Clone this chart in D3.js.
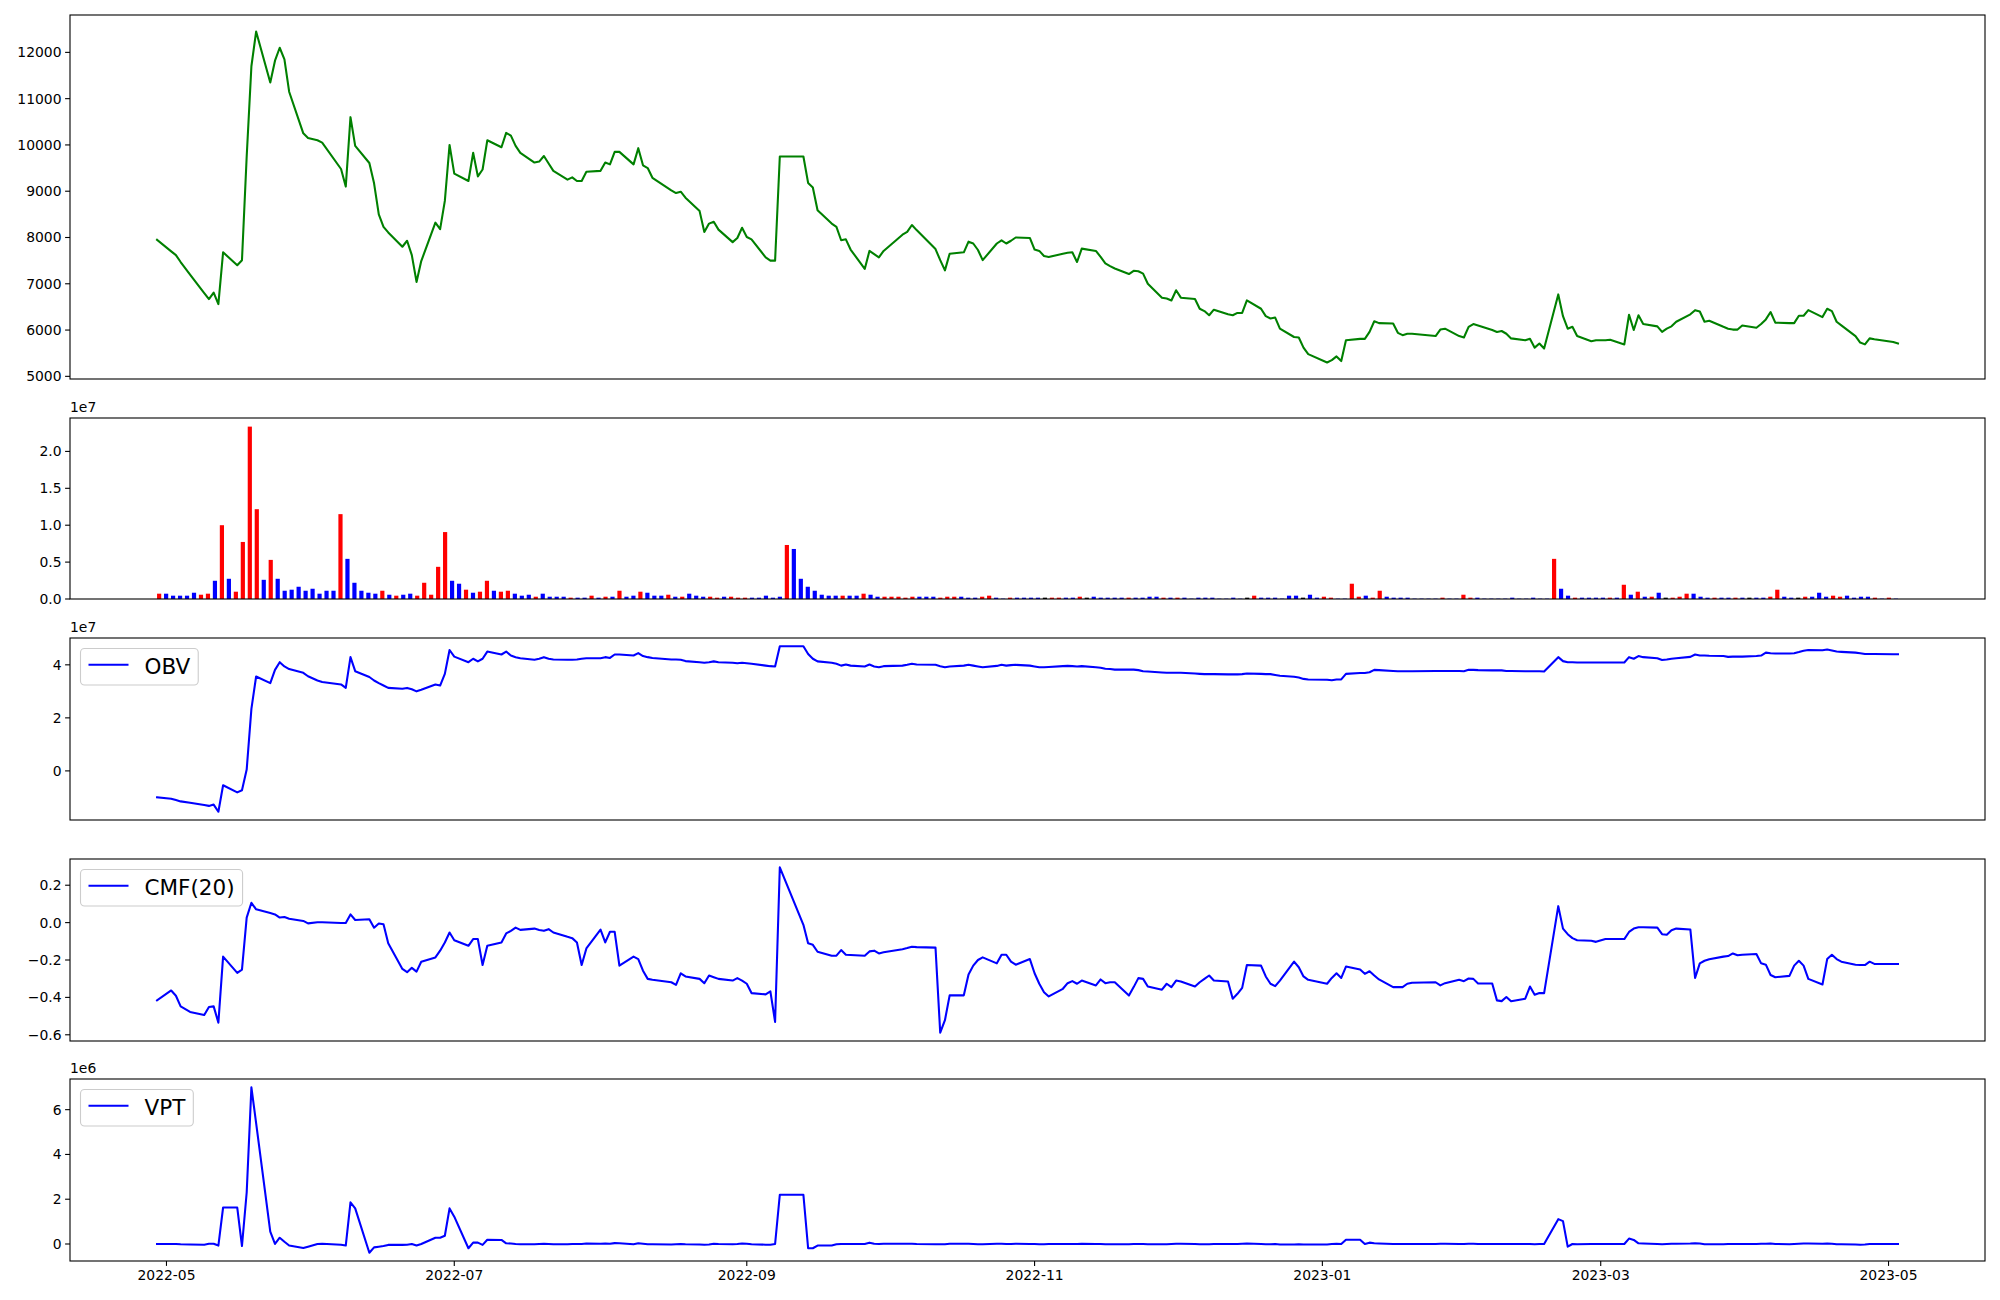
<!DOCTYPE html>
<html><head><meta charset="utf-8">
<script src="https://cdn.jsdelivr.net/npm/d3@7"></script>
<style>
body{margin:0;background:#fff}
svg{display:block}
text{font-family:"DejaVu Sans","Liberation Sans",sans-serif;fill:#000}
</style>
</head><body>
<svg id="chart" width="2000" height="1300"></svg>
<script>
// ---------------- DATA ----------------
// Trading days (KRX calendar) shown by the line panels
const tradingDays = {
  "2022-04": [29],
  "2022-05": [2,3,4,6,9,10,11,12,13,16,17,18,19,20,23,24,25,26,27,30,31],
  "2022-06": [2,3,7,8,9,10,13,14,15,16,17,20,21,22,23,24,27,28,29,30],
  "2022-07": [1,4,5,6,7,8,11,12,13,14,15,18,19,20,21,22,25,26,27,28,29],
  "2022-08": [1,2,3,4,5,8,9,10,11,12,16,17,18,19,22,23,24,25,26,29,30,31],
  "2022-09": [1,2,5,6,7,8,13,14,15,16,19,20,21,22,23,26,27,28,29,30],
  "2022-10": [4,5,6,7,11,12,13,14,17,18,19,20,21,24,25,26,27,28,31],
  "2022-11": [1,2,3,4,7,8,9,10,11,14,15,16,17,18,21,22,23,24,25,28,29,30],
  "2022-12": [1,2,5,6,7,8,9,12,13,14,15,16,19,20,21,22,23,26,27,28,29],
  "2023-01": [2,3,4,5,6,9,10,11,12,13,16,17,18,19,20,25,26,27,30,31],
  "2023-02": [1,2,3,6,7,8,9,10,13,14,15,16,17,20,21,22,23,24,27,28],
  "2023-03": [2,3,6,7,8,9,10,13,14,15,16,17,20,21,22,23,24,27,28,29,30,31],
  "2023-04": [3,4,5,6,7,10,11,12,13,14,17,18,19,20,21,24,25,26,27,28],
  "2023-05": [2,3]
};

const closePrice = [
  7950,
  7700,7620,7470,7200,6800,6670,6810,6560,7680,7400,7510,9750,11700,12450,11350,11820,12100,11850,11150,10250,10150,
  10100,10050,9480,9100,10600,9980,9610,9170,8500,8230,8110,7800,7930,7620,7040,7490,8320,8180,8790,10000,
  9380,9220,9830,9320,9470,10100,9950,10260,10200,9980,9830,9620,9640,9760,9600,9440,9250,9300,9220,9220,9420,
  9440,9620,9580,9850,9850,9580,9930,9560,9500,9290,9020,8960,8990,8860,8570,8120,8300,8340,8170,7900,7990,8210,
  8010,7960,7570,7500,7500,9750,9750,9180,9080,8590,8300,8230,7940,7960,7740,7320,7710,7640,7570,7710,
  8060,8120,8270,8160,7750,7510,7290,7650,7680,7910,7870,7730,7510,7870,7940,7870,7930,8000,7990,
  7740,7710,7600,7580,7650,7670,7680,7470,7760,7710,7580,7440,7380,7330,7210,7280,7270,7220,7000,6700,6680,6640,
  6860,6700,6670,6460,6410,6320,6440,6340,6320,6370,6370,6640,6460,6300,6250,6270,6030,5850,5840,5620,5480,
  5300,5350,5430,5330,5780,5810,5810,5960,6190,6150,6140,5940,5890,5920,5920,5870,6010,6030,5870,5840,
  6070,6130,6100,6000,5960,5980,5920,5820,5780,5810,5620,5710,5600,6770,6300,6030,6070,5870,5760,5780,
  5780,5790,5690,6330,6000,6320,6130,6080,5960,6030,6080,6180,6340,6430,6400,6180,6200,6070,6030,6010,6010,6100,
  6050,6130,6230,6390,6160,6150,6150,6310,6310,6430,6280,6460,6410,6180,6100,5870,5730,5690,5820,5800,
  5740,5710
];

// Volume bars (millions of shares), drawn at evenly spaced bar slots
const volumeMillions = [
  0.72,0.72,0.45,0.45,0.45,0.85,0.58,0.72,2.47,10.0,
  2.74,0.99,7.73,23.36,12.17,2.6,5.3,2.74,1.12,1.26,
  1.66,1.12,1.39,0.72,1.12,1.12,11.5,5.44,2.2,1.12,
  0.85,0.72,1.12,0.58,0.45,0.58,0.72,0.45,2.2,0.58,
  4.36,9.07,2.47,2.07,1.26,0.85,0.99,2.47,1.12,0.99,
  1.12,0.72,0.45,0.58,0.31,0.72,0.31,0.31,0.31,0.18,
  0.18,0.18,0.45,0.18,0.31,0.31,1.12,0.31,0.45,0.99,
  0.85,0.45,0.45,0.58,0.31,0.31,0.72,0.45,0.31,0.31,
  0.18,0.31,0.31,0.18,0.18,0.18,0.18,0.45,0.18,0.31,
  7.32,6.78,2.74,1.66,1.12,0.58,0.45,0.45,0.45,0.45,
  0.45,0.72,0.58,0.31,0.31,0.31,0.31,0.18,0.31,0.31,
  0.31,0.31,0.18,0.31,0.31,0.31,0.18,0.18,0.31,0.45,
  0.18,0.05,0.18,0.18,0.18,0.18,0.18,0.18,0.18,0.18,
  0.18,0.18,0.31,0.18,0.31,0.18,0.18,0.18,0.18,0.18,
  0.18,0.18,0.31,0.31,0.18,0.18,0.18,0.18,0.05,0.18,
  0.18,0.18,0.05,0.05,0.18,0.05,0.18,0.45,0.18,0.18,
  0.18,0.05,0.45,0.45,0.18,0.58,0.18,0.31,0.18,0.05,
  0.05,2.07,0.31,0.45,0.18,1.12,0.31,0.18,0.18,0.18,
  0.05,0.05,0.05,0.05,0.18,0.05,0.05,0.58,0.18,0.18,
  0.05,0.05,0.05,0.05,0.18,0.05,0.05,0.18,0.05,0.05,
  5.44,1.39,0.45,0.18,0.18,0.18,0.18,0.18,0.18,0.18,
  1.93,0.58,0.99,0.31,0.31,0.85,0.18,0.18,0.31,0.72,
  0.72,0.31,0.18,0.18,0.18,0.18,0.18,0.18,0.18,0.18,
  0.18,0.31,1.26,0.31,0.18,0.18,0.31,0.31,0.85,0.31,
  0.45,0.31,0.45,0.18,0.31,0.31,0.18,0.05,0.18,0.05
];
// R = close above open (red), B = below (blue), K = unchanged (black)
const barDirection = (
  "RBBBBBRRBR"+"BRRRRBRBBB"+"BBBBBBRBBB"+"BBRBRBBRRR"+"RRBBRBRRBR"+
  "RBBBRBBBBR"+"BBRBRBRBBR"+"BBBRBRBBBR"+"RBRRRBBBBB"+"RBBBBBBBRB"+
  "BRBBRRRRRB"+"BBRRRBBBRR"+"BBRBBBBKRR"+"BBRKBBBBBR"+"BBBBRBRBBB"+
  "BBBBBBKRBB"+"BBBBKBBRRB"+"BRRBRRBBBB"+"BBBBRBBRRB"+"BBBBBBBBBB"+
  "RBBRBBBBRB"+"RBRBRBKRRR"+"BBBRBBRBKB"+"BRRBBKRBBB"+"RRBBBBRBRB").split("");
const directionColor = {R:"#ff0000", B:"#0000ff", K:"#000000"};

// On-balance volume (millions)
const obvMillions = [
  -10.0,
  -10.5,-11.0,-11.5,-12.0,-12.9,-13.2,-12.7,-15.4,-5.4,-8.1,-7.3,0.5,23.4,35.6,33.1,38.1,41.0,39.4,38.4,37.0,35.7,
  34.1,33.5,32.6,31.3,42.9,37.6,35.4,34.1,33.1,32.2,31.3,31.0,31.3,30.8,30.0,30.6,32.6,32.2,36.6,45.6,
  43.1,41.0,42.3,41.3,42.3,45.0,43.9,45.0,43.5,42.9,42.5,41.9,42.3,42.9,42.3,42.0,41.9,41.9,42.0,42.3,42.5,
  42.5,42.9,42.6,43.9,43.9,43.5,44.4,43.3,42.9,42.6,42.0,42.0,41.9,41.4,41.0,40.8,41.0,41.3,41.0,40.8,40.6,40.8,
  40.6,40.4,39.7,39.5,39.4,47.0,47.0,44.1,42.3,41.3,40.8,40.4,39.7,40.1,39.7,39.4,40.1,39.4,39.1,39.5,
  39.7,40.0,40.4,40.1,40.0,39.5,39.1,39.4,39.7,40.0,39.7,39.4,39.1,39.6,40.0,39.7,39.9,40.0,39.7,
  39.4,39.1,39.1,39.2,39.5,39.6,39.5,39.4,39.5,39.1,38.9,38.5,38.4,38.2,38.2,38.2,38.0,37.6,37.5,37.1,37.0,37.0,
  37.0,37.0,36.7,36.6,36.5,36.5,36.5,36.4,36.4,36.4,36.5,36.7,36.6,36.5,36.5,36.2,35.9,35.5,35.2,34.7,34.5,
  34.4,34.2,34.5,34.5,36.6,36.9,36.9,37.2,38.1,38.0,37.7,37.6,37.6,37.6,37.6,37.7,37.7,37.7,37.7,37.6,
  38.1,38.1,38.0,37.9,37.9,37.9,37.7,37.7,37.6,37.6,37.6,37.6,37.5,42.9,41.4,41.0,41.0,40.9,40.9,40.9,
  40.9,40.9,40.9,42.9,42.3,43.3,42.9,42.5,41.8,42.0,42.3,42.5,43.0,43.9,43.5,43.5,43.4,43.3,43.0,43.1,43.1,43.1,
  43.3,43.5,44.6,44.4,44.3,44.3,44.4,44.8,45.3,45.6,45.5,45.8,45.4,45.0,44.9,44.6,44.4,44.1,44.1,44.1,
  44.0,44.0
];

// Chaikin money flow, 20 periods
const cmf20 = [
  -0.416,
  -0.363,-0.391,-0.448,-0.478,-0.494,-0.451,-0.448,-0.535,-0.182,-0.269,-0.251,0.027,0.106,0.071,0.051,0.044,0.027,0.030,0.021,0.009,-0.004,
  0.002,0.002,-0.002,-0.002,0.044,0.014,0.018,-0.027,-0.005,-0.009,-0.110,-0.248,-0.265,-0.242,-0.262,-0.209,-0.186,-0.150,-0.106,-0.053,
  -0.094,-0.124,-0.088,-0.088,-0.227,-0.124,-0.106,-0.058,-0.044,-0.027,-0.039,-0.032,-0.039,-0.044,-0.035,-0.053,-0.076,-0.083,-0.106,-0.227,-0.138,
  -0.037,-0.106,-0.049,-0.049,-0.230,-0.182,-0.195,-0.257,-0.301,-0.306,-0.319,-0.333,-0.271,-0.288,-0.301,-0.324,-0.283,-0.292,-0.301,-0.310,-0.297,-0.310,
  -0.327,-0.377,-0.384,-0.368,-0.531,0.296,-0.012,-0.111,-0.119,-0.156,-0.177,-0.177,-0.147,-0.172,-0.173,-0.177,-0.154,-0.150,-0.165,-0.159,
  -0.142,-0.136,-0.129,-0.131,-0.134,-0.589,-0.522,-0.389,-0.389,-0.278,-0.230,-0.200,-0.186,-0.218,-0.172,-0.172,-0.209,-0.225,-0.195,
  -0.271,-0.327,-0.372,-0.395,-0.354,-0.324,-0.313,-0.327,-0.310,-0.336,-0.304,-0.324,-0.319,-0.319,-0.390,-0.345,-0.297,-0.301,-0.342,-0.359,-0.327,-0.345,
  -0.310,-0.315,-0.342,-0.319,-0.301,-0.283,-0.310,-0.315,-0.407,-0.381,-0.349,-0.227,-0.230,-0.288,-0.327,-0.340,-0.310,-0.209,-0.239,-0.288,-0.306,
  -0.327,-0.296,-0.271,-0.296,-0.235,-0.251,-0.274,-0.260,-0.283,-0.304,-0.345,-0.345,-0.345,-0.327,-0.322,-0.319,-0.336,-0.324,-0.306,-0.313,
  -0.299,-0.301,-0.326,-0.326,-0.416,-0.420,-0.398,-0.421,-0.407,-0.342,-0.386,-0.377,-0.377,0.088,-0.032,-0.062,-0.083,-0.094,-0.097,-0.103,
  -0.088,-0.088,-0.088,-0.050,-0.032,-0.025,-0.025,-0.027,-0.062,-0.065,-0.041,-0.032,-0.037,-0.296,-0.218,-0.204,-0.196,-0.182,-0.179,-0.165,-0.175,-0.172,
  -0.168,-0.218,-0.225,-0.280,-0.292,-0.285,-0.230,-0.204,-0.230,-0.301,-0.331,-0.195,-0.172,-0.195,-0.209,-0.225,-0.227,-0.227,-0.209,-0.221,
  -0.221,-0.221
];

// Volume price trend (millions)
const vptMillions = [
  0.0,
  0.0,0.0,-0.01,-0.02,-0.03,0.01,0.01,-0.07,1.63,1.63,-0.09,2.3,7.0,5.4,0.55,0.0,0.28,0.1,-0.07,-0.18,-0.12,
  0.0,0.01,-0.03,-0.07,1.86,1.59,-0.39,-0.15,-0.12,-0.09,-0.04,-0.04,-0.03,0.0,-0.07,0.0,0.28,0.28,0.37,1.59,
  1.22,-0.19,0.06,0.06,-0.04,0.19,0.18,0.03,0.02,0.0,-0.01,-0.01,0.0,0.01,0.0,-0.01,-0.01,0.0,0.0,0.0,0.02,
  0.01,0.02,0.01,0.04,0.03,-0.01,0.03,0.01,-0.01,-0.01,-0.02,-0.01,0.0,-0.01,-0.02,-0.03,-0.02,0.01,0.0,-0.01,0.0,0.02,
  0.01,-0.01,-0.03,-0.03,0.0,2.2,2.2,-0.19,-0.19,-0.07,-0.07,-0.01,0.0,0.0,0.0,0.0,0.06,0.01,0.0,0.01,
  0.01,0.01,0.01,0.0,-0.01,-0.01,-0.01,0.01,0.01,0.01,0.0,-0.01,-0.01,0.01,0.01,0.0,0.0,0.01,0.0,
  0.0,-0.01,-0.01,0.0,0.0,0.0,0.0,0.0,0.01,0.0,0.0,-0.01,-0.01,-0.01,-0.01,0.0,0.0,0.0,-0.01,-0.01,-0.01,0.0,
  0.01,0.01,0.0,-0.01,-0.01,-0.01,0.0,0.0,0.0,0.0,0.01,0.02,0.0,-0.01,-0.01,0.0,-0.02,-0.02,-0.01,-0.02,-0.02,
  -0.02,0.0,0.01,0.0,0.19,0.19,0.0,0.06,0.03,0.02,0.0,0.0,0.0,0.0,0.0,0.0,0.01,0.01,0.0,0.0,
  0.01,0.01,0.0,0.0,0.0,0.0,0.0,0.0,0.0,0.0,-0.01,0.0,0.0,1.11,1.02,-0.12,0.0,-0.01,0.0,0.0,
  0.0,0.0,0.0,0.24,0.18,0.03,0.02,0.0,-0.01,0.0,0.01,0.01,0.02,0.03,0.02,-0.01,-0.01,-0.01,0.0,0.0,0.0,0.0,
  0.0,0.01,0.01,0.02,0.0,-0.01,0.0,0.01,0.02,0.02,0.01,0.02,0.01,-0.01,-0.01,-0.02,-0.03,-0.02,0.0,0.0,
  0.0,0.0
];

// Tick values and labels
const priceTicks = [5000,6000,7000,8000,9000,10000,11000,12000];
const volumeTicks = [0, 0.5e7, 1.0e7, 1.5e7, 2.0e7];
const volumeTickLabels = ["0.0","0.5","1.0","1.5","2.0"];
const obvTicks = [0, 2e7, 4e7];
const obvTickLabels = ["0","2","4"];
const cmfTicks = [-0.6,-0.4,-0.2,0.0,0.2];
const cmfTickLabels = ["\u22120.6","\u22120.4","\u22120.2","0.0","0.2"];
const vptTicks = [0, 2e6, 4e6, 6e6];
const vptTickLabels = ["0","2","4","6"];
const dateTicks = ["2022-05-01","2022-07-01","2022-09-01","2022-11-01","2023-01-01","2023-03-01","2023-05-01"];

// ---------------- DRAWING ----------------
const svg = d3.select("#chart");
svg.append("rect").attr("width",2000).attr("height",1300).attr("fill","#fff");

const L = 70, R = 1985;
const panels = [
  {top:15,  bottom:379},
  {top:418, bottom:599},
  {top:638, bottom:820},
  {top:859, bottom:1041},
  {top:1079,bottom:1261}
];
const FS = 13.9, TICK = 4.9, LW = 2.08;

const parse = d3.utcParse("%Y-%m-%d");
const dates = [];
Object.entries(tradingDays).forEach(([ym, days]) =>
  days.forEach(d => dates.push(parse(ym + "-" + String(d).padStart(2,"0")))));

const t0 = +dates[0], t1 = +dates[dates.length-1], tSpan = t1 - t0;
const x = d3.scaleUtc().domain([new Date(t0 - 0.05*tSpan), new Date(t1 + 0.05*tSpan)]).range([L, R]);

function padded(vals) {
  const [a, b] = d3.extent(vals); const r = b - a;
  return [a - 0.05*r, b + 0.05*r];
}

function yAxis(g, y, ticks, labels) {
  ticks.forEach((t, i) => {
    const yy = y(t);
    g.append("line").attr("x1", L - TICK).attr("x2", L).attr("y1", yy).attr("y2", yy)
      .attr("stroke","#000").attr("stroke-width",1.1);
    g.append("text").attr("x", L - TICK - 3.6).attr("y", yy).attr("text-anchor","end")
      .attr("dominant-baseline","central").attr("font-size", FS).text(labels ? labels[i] : String(t));
  });
}
function frame(g, p) {
  g.append("rect").attr("x", L).attr("y", p.top).attr("width", R - L).attr("height", p.bottom - p.top)
    .attr("fill","none").attr("stroke","#000").attr("stroke-width",1.1);
}
function offsetText(g, p, txt) {
  g.append("text").attr("x", L).attr("y", p.top - 6).attr("font-size", FS).text(txt);
}
function legend(g, p, label) {
  const fs = 21.5;
  const tmp = g.append("text").attr("font-size", fs).text(label);
  const tw = tmp.node().getComputedTextLength(); tmp.remove();
  const bx = L + 10.5, by = p.top + 10.5, bw = 8 + 40 + 16 + tw + 8, bh = 36.5;
  g.append("rect").attr("x", bx).attr("y", by).attr("width", bw).attr("height", bh)
    .attr("rx", 4).attr("fill","#fff").attr("fill-opacity",0.8).attr("stroke","#cccccc").attr("stroke-width",1.1);
  const cy = by + bh/2 - 2;
  g.append("line").attr("x1", bx + 8).attr("x2", bx + 48).attr("y1", cy).attr("y2", cy)
    .attr("stroke","#0000ff").attr("stroke-width", LW);
  g.append("text").attr("x", bx + 64).attr("y", by + 25).attr("font-size", fs).text(label);
}
function drawLine(g, y, vals, color) {
  const line = d3.line().x((d, i) => x(dates[i])).y(d => y(d));
  g.append("path").datum(vals).attr("d", line).attr("fill","none").attr("stroke", color)
    .attr("stroke-width", LW).attr("stroke-linejoin","round").attr("stroke-linecap","square");
}

// Panel 1: close price
{
  const p = panels[0], g = svg.append("g");
  const y = d3.scaleLinear().domain(padded(closePrice)).range([p.bottom, p.top]);
  drawLine(g, y, closePrice, "#008000");
  yAxis(g, y, priceTicks);
  frame(g, p);
}

// Panel 2: volume bars on evenly spaced slots
{
  const p = panels[1], g = svg.append("g");
  const vol = volumeMillions.map(v => v * 1e6);
  const n = vol.length, w = 0.6;
  const ext = (n - 1) + w;
  const xb = d3.scaleLinear().domain([-w/2 - 0.05*ext, (n - 1) + w/2 + 0.05*ext]).range([L, R]);
  const y = d3.scaleLinear().domain([0, d3.max(vol) * 1.05]).range([p.bottom, p.top]);
  const bw = xb(w) - xb(0);
  g.selectAll("rect.bar").data(vol).enter().append("rect").attr("class","bar")
    .attr("x", (d, i) => xb(i) - bw/2).attr("width", bw)
    .attr("y", d => y(d)).attr("height", d => y(0) - y(d))
    .attr("fill", (d, i) => directionColor[barDirection[i]]);
  yAxis(g, y, volumeTicks, volumeTickLabels);
  offsetText(g, p, "1e7");
  frame(g, p);
}

// Panel 3: OBV
{
  const p = panels[2], g = svg.append("g");
  const vals = obvMillions.map(v => v * 1e6);
  const y = d3.scaleLinear().domain(padded(vals)).range([p.bottom, p.top]);
  drawLine(g, y, vals, "#0000ff");
  yAxis(g, y, obvTicks, obvTickLabels);
  offsetText(g, p, "1e7");
  frame(g, p);
  legend(g, p, "OBV");
}

// Panel 4: CMF(20)
{
  const p = panels[3], g = svg.append("g");
  const y = d3.scaleLinear().domain(padded(cmf20)).range([p.bottom, p.top]);
  drawLine(g, y, cmf20, "#0000ff");
  yAxis(g, y, cmfTicks, cmfTickLabels);
  frame(g, p);
  legend(g, p, "CMF(20)");
}

// Panel 5: VPT with date axis
{
  const p = panels[4], g = svg.append("g");
  const vals = vptMillions.map(v => v * 1e6);
  const y = d3.scaleLinear().domain(padded(vals)).range([p.bottom, p.top]);
  drawLine(g, y, vals, "#0000ff");
  yAxis(g, y, vptTicks, vptTickLabels);
  offsetText(g, p, "1e6");
  const fmt = d3.utcFormat("%Y-%m");
  dateTicks.map(parse).forEach(t => {
    const xx = x(t);
    g.append("line").attr("x1", xx).attr("x2", xx).attr("y1", p.bottom).attr("y2", p.bottom + TICK)
      .attr("stroke","#000").attr("stroke-width",1.1);
    g.append("text").attr("x", xx).attr("y", p.bottom + TICK + 3.6).attr("text-anchor","middle")
      .attr("dominant-baseline","hanging").attr("font-size", FS).text(fmt(t));
  });
  frame(g, p);
  legend(g, p, "VPT");
}

if (dates.length !== closePrice.length || dates.length !== obvMillions.length ||
    dates.length !== cmf20.length || dates.length !== vptMillions.length ||
    volumeMillions.length !== barDirection.length) {
  console.error("length mismatch", dates.length, closePrice.length, obvMillions.length, cmf20.length, vptMillions.length, volumeMillions.length, barDirection.length);
}
</script>
</body></html>
